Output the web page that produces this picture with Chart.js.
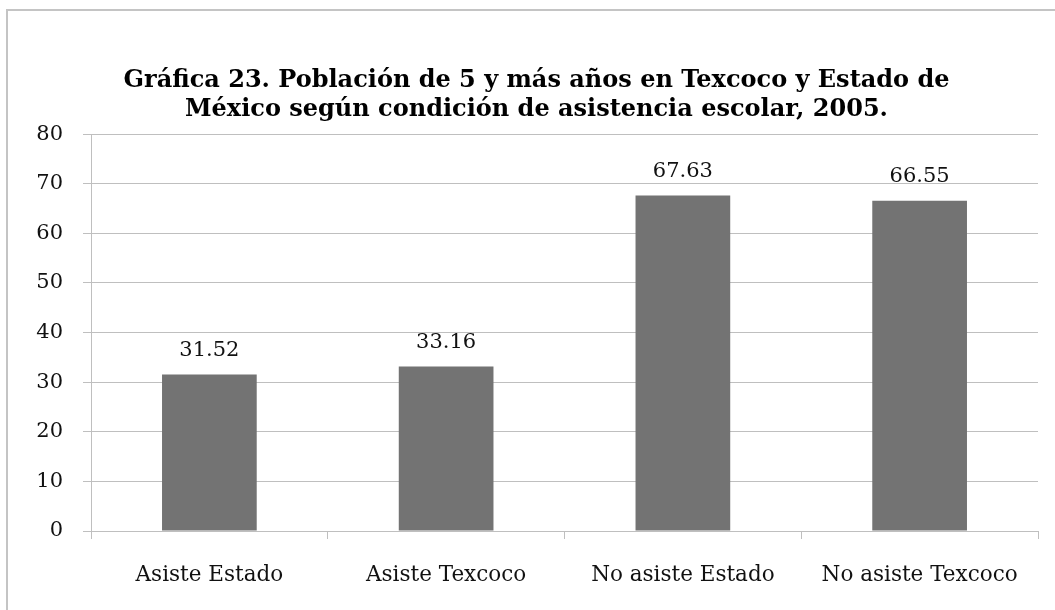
<!DOCTYPE html>
<html>
<head>
<meta charset="utf-8">
<script src="https://cdn.jsdelivr.net/npm/chart.js@4"></script>
<style>
    html, body { margin: 0; padding: 0; background: #fff; overflow: hidden; }
    #frame { position: absolute; left: 6px; top: 9px; width: 2000px; height: 2000px; border: 2px solid #c4c4c4; }
    #wrap { position: absolute; left: 8px; top: 11px; width: 1057px; height: 599px; }
</style>
</head>
<body>
<div id="frame"></div>
<div id="wrap"><canvas id="chart"></canvas></div>
<script>
categories = ["Asiste Estado", "Asiste Texcoco", "No asiste Estado", "No asiste Texcoco"]
values = [31.52, 33.16, 67.63, 66.55]
title_lines = ["Gráfica 23. Población de 5 y más años en Texcoco y Estado de", "México según condición de asistencia escolar, 2005."]

// draws the number above each bar
value_labels = {
    id: "value_labels",
    afterDatasetsDraw(chart) {
        let ctx = chart.ctx;
        let meta = chart.getDatasetMeta(0);
        ctx.save();
        ctx.font = "21px 'DejaVu Serif'";
        ctx.fillStyle = "#111";
        ctx.textAlign = "center";
        ctx.textBaseline = "middle";
        meta.data.forEach((bar, i) => {
            ctx.fillText(values[i].toFixed(2), bar.x, bar.y - 24);
        });
        ctx.restore();
    }
};

document.addEventListener("DOMContentLoaded", function() {
    chart = new Chart(document.getElementById("chart").getContext("2d"), {
        type: "bar",
        data: {
            labels: categories,
            datasets: [{
                data: values,
                backgroundColor: "#737373",
                borderWidth: 0,
                categoryPercentage: 0.4,
                barPercentage: 1
            }]
        },
        options: {
            responsive: true,
            maintainAspectRatio: false,
            animation: false,
            layout: { padding: { left: 27, right: 27, top: 0, bottom: 23 } },
            plugins: {
                legend: { display: false },
                tooltip: { enabled: false },
                title: {
                    display: true,
                    text: title_lines,
                    color: "#000",
                    font: { family: "'DejaVu Serif'", size: 24, weight: "bold", lineHeight: 1.21 },
                    padding: { top: 55.5, bottom: 9.5 }
                }
            },
            scales: {
                x: {
                    grid: { drawOnChartArea: false, tickLength: 8, color: "#bfbfbf", offset: true },
                    border: { color: "#bfbfbf" },
                    ticks: { color: "#111", padding: 24, maxRotation: 0, font: { family: "'DejaVu Serif'", size: 21.5 } },
                    afterFit: function(scale) { scale.height = 56; }
                },
                y: {
                    min: 0,
                    max: 80,
                    ticks: { stepSize: 10, color: "#111", padding: 20, font: { family: "'DejaVu Serif'", size: 21 } },
                    grid: { tickLength: 8, color: "#bfbfbf" },
                    border: { color: "#bfbfbf" },
                    afterFit: function(scale) { scale.width = 56; }
                }
            }
        },
        plugins: [value_labels]
    });
});
</script>
</body>
</html>
